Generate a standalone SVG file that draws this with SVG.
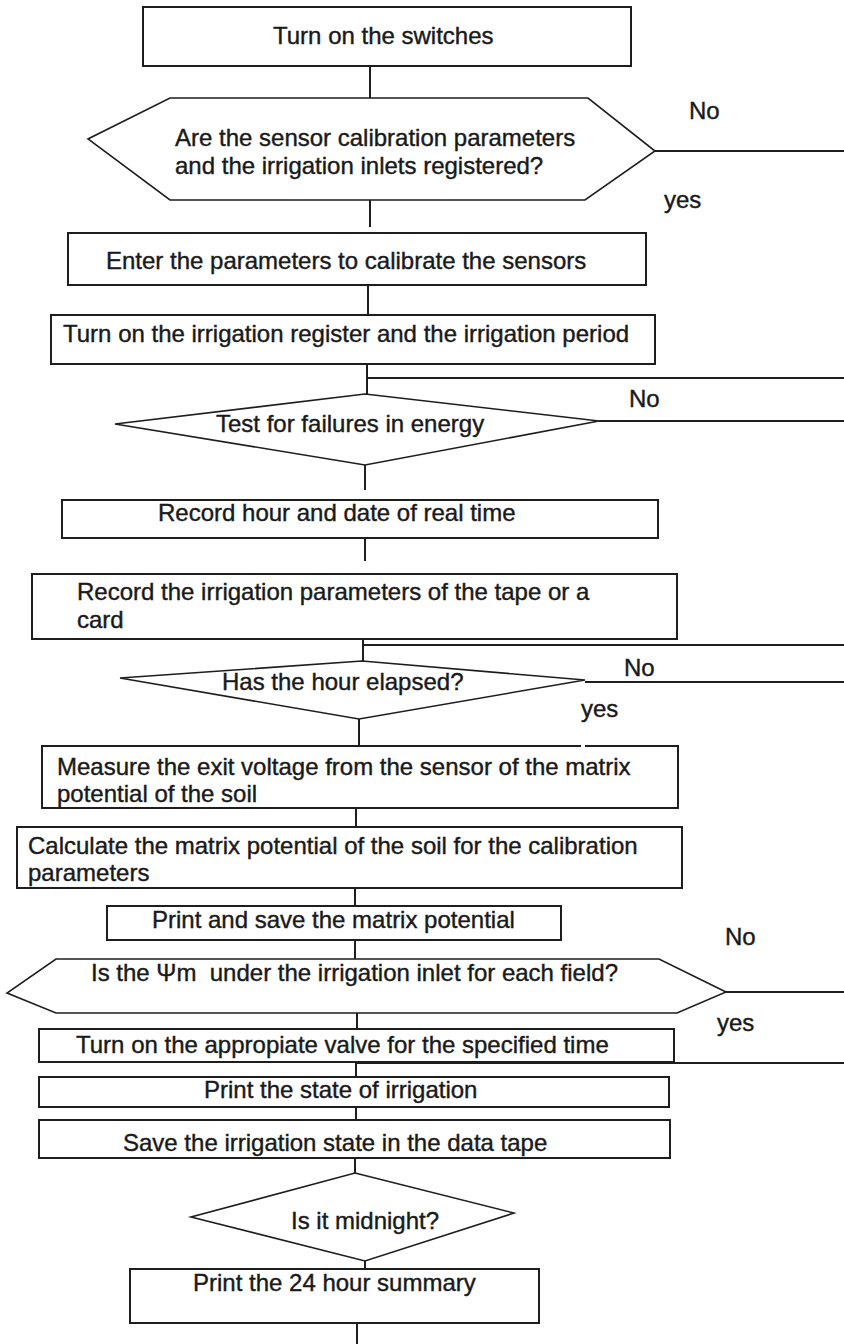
<svg xmlns="http://www.w3.org/2000/svg" width="844" height="1344" viewBox="0 0 844 1344">
<style>
.bg{fill:#ffffff}
.box{fill:#ffffff;stroke:#1e1e1e;stroke-width:2}
.dec{fill:#ffffff;stroke:#1e1e1e;stroke-width:1.6}
.con{stroke:#1e1e1e;stroke-width:2;fill:none}
text{font-family:"Liberation Sans",Arial,sans-serif;font-size:24px;fill:#1a1a1a;stroke:#1a1a1a;stroke-width:0.4}
</style>
<rect class="bg" x="0" y="0" width="844" height="1344"/>
<g id="connectors">
<line class="con" x1="370" y1="66" x2="370" y2="98"/>
<line class="con" x1="370" y1="200" x2="370" y2="227"/>
<line class="con" x1="655" y1="151" x2="844" y2="151"/>
<line class="con" x1="368" y1="285" x2="368" y2="315"/>
<line class="con" x1="367" y1="364" x2="367" y2="394"/>
<line class="con" x1="367" y1="378" x2="844" y2="378"/>
<line class="con" x1="599" y1="421" x2="844" y2="421"/>
<line class="con" x1="365" y1="465" x2="365" y2="490"/>
<line class="con" x1="365" y1="538" x2="365" y2="561"/>
<line class="con" x1="363" y1="639" x2="363" y2="661"/>
<line class="con" x1="363" y1="645" x2="844" y2="645"/>
<line class="con" x1="585" y1="682" x2="844" y2="682"/>
<line class="con" x1="359" y1="719" x2="359" y2="746"/>
<line class="con" x1="356" y1="808" x2="356" y2="827"/>
<line class="con" x1="355" y1="888" x2="355" y2="906"/>
<line class="con" x1="355" y1="940" x2="355" y2="959"/>
<line class="con" x1="726" y1="992" x2="844" y2="992"/>
<line class="con" x1="357" y1="1013" x2="357" y2="1029"/>
<line class="con" x1="357" y1="1063" x2="844" y2="1063"/>
<line class="con" x1="356" y1="1063" x2="356" y2="1077"/>
<line class="con" x1="356" y1="1107" x2="356" y2="1120"/>
<line class="con" x1="355" y1="1158" x2="355" y2="1173"/>
<line class="con" x1="365" y1="1261" x2="365" y2="1269"/>
<line class="con" x1="357" y1="1323" x2="357" y2="1344"/>
</g>
<g id="n1">
<rect class="box" x="143" y="7" width="488" height="59"/>
<text x="273" y="44">Turn on the switches</text>
</g>
<g id="d1">
<polygon class="dec" points="170,98 588,98 655,151 585,200 170,200 88,139"/>
<text x="175" y="146">Are the sensor calibration parameters</text>
<text x="175" y="174">and the irrigation inlets registered?</text>
<text x="689" y="119">No</text>
<text x="664" y="208">yes</text>
</g>
<g id="n2">
<rect class="box" x="68" y="233" width="578" height="52"/>
<text x="106" y="269">Enter the parameters to calibrate the sensors</text>
</g>
<g id="n3">
<rect class="box" x="51" y="315" width="604" height="49"/>
<text x="63" y="342">Turn on the irrigation register and the irrigation period</text>
</g>
<g id="d2">
<polygon class="dec" points="365,394 599,421 365,465 115,424"/>
<text x="216" y="432">Test for failures in energy</text>
<text x="629" y="407">No</text>
</g>
<g id="n4">
<rect class="box" x="62" y="500" width="596" height="38"/>
<text x="158" y="521">Record hour and date of real time</text>
</g>
<g id="n5">
<rect class="box" x="32" y="574" width="645" height="65"/>
<text x="77" y="600">Record the irrigation parameters of the tape or a</text>
<text x="77" y="628">card</text>
</g>
<g id="d3">
<polygon class="dec" points="362,661 585,680 359,719 120,678"/>
<text x="222" y="690">Has the hour elapsed?</text>
<text x="624" y="676">No</text>
<text x="581" y="717">yes</text>
</g>
<g id="n6">
<path class="box" d="M585,746 H678 V808 H42 V746 H581"/>
<text x="57" y="775">Measure the exit voltage from the sensor of the matrix</text>
<text x="57" y="802">potential of the soil</text>
</g>
<g id="n7">
<rect class="box" x="17" y="827" width="665" height="61"/>
<text x="28" y="854">Calculate the matrix potential of the soil for the calibration</text>
<text x="28" y="881">parameters</text>
</g>
<g id="n8">
<rect class="box" x="107" y="906" width="454" height="34"/>
<text x="152" y="928">Print and save the matrix potential</text>
</g>
<g id="d4">
<polygon class="dec" points="56,959 659,959 726,992 677,1013 56,1013 7,993"/>
<text x="91" y="981" xml:space="preserve">Is the Ψm  under the irrigation inlet for each field?</text>
<text x="725" y="945">No</text>
<text x="717" y="1031">yes</text>
</g>
<g id="n9">
<rect class="box" x="39" y="1029" width="635" height="33"/>
<text x="76" y="1053">Turn on the appropiate valve for the specified time</text>
</g>
<g id="n10">
<rect class="box" x="39" y="1077" width="630" height="30"/>
<text x="204" y="1098">Print the state of irrigation</text>
</g>
<g id="n11">
<rect class="box" x="39" y="1120" width="631" height="38"/>
<text x="123" y="1151">Save the irrigation state in the data tape</text>
</g>
<g id="d5">
<polygon class="dec" points="355,1173 514,1213 365,1261 191,1217"/>
<text x="291" y="1229">Is it midnight?</text>
</g>
<g id="n12">
<rect class="box" x="130" y="1269" width="409" height="54"/>
<text x="193" y="1291">Print the 24 hour summary</text>
</g>
</svg>
